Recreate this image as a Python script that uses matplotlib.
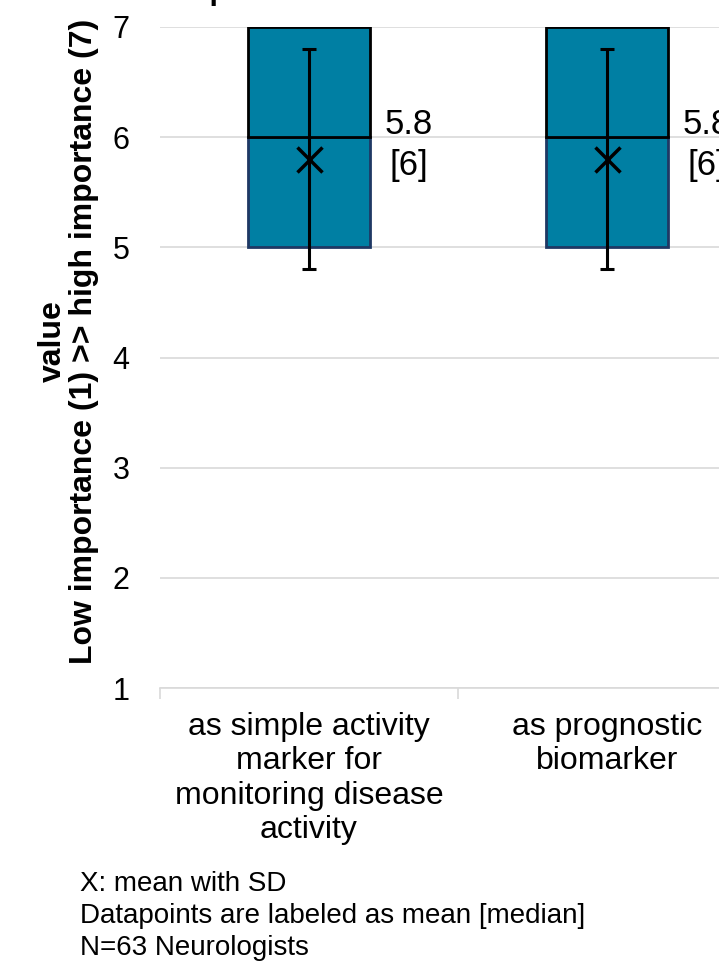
import numpy as np
import matplotlib.pyplot as plt

plt.rcParams['font.family'] = ['Liberation Sans', 'DejaVu Sans']

# data
categories = ['as simple activity\nmarker for\nmonitoring disease\nactivity',
              'as prognostic\nbiomarker']
q1 = [5, 5]
median = [6, 6]
q3 = [7, 7]
mean = [5.8, 5.8]
sd = [1.0, 1.0]
footnotes = ['X: mean with SD',
             'Datapoints are labeled as mean [median]',
             'N=63 Neurologists']

fill = '#007FA3'
navy = '#1F3864'
grid = '#D9D9D9'

W, H = 719, 965
fig = plt.figure(figsize=(W / 100, H / 100), dpi=100)
# plot area runs past the right edge (the reference is cropped)
ax = fig.add_axes([160 / W, 277 / H, 3 * 298 / W, 661 / H])

x = np.arange(len(categories))
bw = 0.41
ax.bar(x, np.subtract(median, q1), bottom=q1, width=bw, color=fill,
       edgecolor=navy, linewidth=2, zorder=2)
ax.bar(x, np.subtract(q3, median), bottom=median, width=bw, color=fill,
       edgecolor='black', linewidth=2, zorder=3)
ax.errorbar(x, mean, yerr=sd, fmt='none', ecolor='black', elinewidth=2.2,
            capsize=5, capthick=2.2, zorder=4)
ax.plot(x, mean, 'x', color='black', markersize=18, mew=2.5, zorder=5)

for i in range(len(x)):
    ax.text(x[i] + 0.335, mean[i] + 0.13, f'{mean[i]:.1f}\n[{median[i]:g}]',
            ha='center', va='center', multialignment='center',
            fontsize=25, linespacing=1.3, zorder=6)

ax.set_xlim(-0.5, 2.5)
ax.set_ylim(1, 7)
ax.set_yticks(range(1, 8))
ax.tick_params(axis='y', length=0, pad=22, labelsize=22)
ax.yaxis.grid(True, color=grid, linewidth=1.2, zorder=0)
ax.set_axisbelow(True)

ax.set_xticks(x)
ax.set_xticklabels(categories, fontsize=23, linespacing=1.2)
ax.tick_params(axis='x', length=0, pad=17)
ax.set_xticks(np.arange(-0.5, 3, 1), minor=True)
ax.tick_params(axis='x', which='minor', length=8, width=1.2, color=grid)

for s in ['top', 'right', 'left']:
    ax.spines[s].set_visible(False)
ax.spines['bottom'].set_color(grid)
ax.spines['bottom'].set_linewidth(1.2)

fig.text(68 / W, 1 - 341 / H, 'value\nLow importance (1) >> high importance (7)',
         rotation=90, ha='center', va='center', multialignment='center',
         fontsize=23, fontweight='bold', linespacing=1.05)

# title sits above the visible area, only its descender shows
fig.text(174 / W, 1 + 1 / H, 'Importance', ha='left', va='baseline',
         fontsize=22, fontweight='bold')

for k, line in enumerate(footnotes):
    fig.text(80 / W, 1 - (884 + 32 * k) / H, line, ha='left', va='center',
             fontsize=20)

fig.savefig('out.png', dpi=100)
